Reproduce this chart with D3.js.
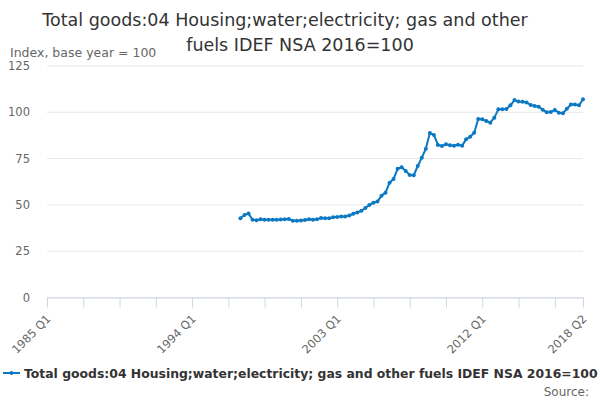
<!DOCTYPE html>
<html>
<head>
<meta charset="utf-8">
<script src="https://cdn.jsdelivr.net/npm/d3@7"></script>
<style>
  body { margin: 0; background: #fff; }
  svg { display: block; font-family: "DejaVu Sans", sans-serif; }
</style>
</head>
<body>
<div id="chart"></div>
<script>
// Axis runs quarterly from 1985 Q1 (index 0) to 2018 Q2 (index 133)
const firstYear = 1985;
const quarterCount = 134;
const tickLabels = ['1985 Q1', '1994 Q1', '2003 Q1', '2012 Q1', '2018 Q2'];
const yTicks = [0, 25, 50, 75, 100, 125];

// Series starts 1997 Q1 (index 48)
const seriesStart = 48;
const values = [
  42.8, 44.6, 45.3, 42.0, 41.7, 42.2, 42.0, 42.0, 42.0, 42.0,
  42.1, 42.3, 42.4, 41.4, 41.4, 41.6, 41.8, 42.2, 42.0, 42.2,
  42.9, 42.8, 42.8, 43.3, 43.5, 43.7, 43.8, 44.3, 45.2, 45.9,
  46.8, 48.3, 50.0, 51.2, 51.8, 55.0, 56.6, 62.0, 64.0, 69.5,
  70.3, 68.3, 66.2, 66.0, 71.0, 75.5, 80.3, 88.8, 87.8, 82.4,
  81.8, 82.7, 82.2, 82.0, 82.5, 82.0, 85.4, 86.8, 89.0, 96.4,
  96.2, 95.3, 94.4, 97.1, 101.6, 101.6, 101.8, 103.8, 106.6, 105.8,
  105.7, 105.3, 104.0, 103.4, 103.0, 101.4, 100.0, 100.1, 101.3, 99.8,
  99.5, 101.9, 104.2, 104.2, 103.8, 107.0
];

const title = ['Total goods:04 Housing;water;electricity; gas and other', 'fuels IDEF NSA 2016=100'];
const yTitle = 'Index, base year = 100';
const seriesName = 'Total goods:04 Housing;water;electricity; gas and other fuels IDEF NSA 2016=100';

const quarterName = i => `${firstYear + Math.floor(i / 4)} Q${i % 4 + 1}`;
const points = values.map((v, k) => ({ i: seriesStart + k, v }));

const width = 600, height = 400;
const color = '#0a78c2';

const svg = d3.select('#chart').append('svg')
  .attr('width', width)
  .attr('height', height);

const x = d3.scaleLinear().domain([0, quarterCount - 1]).range([47, 583]);
const y = d3.scaleLinear().domain([0, 125]).range([297.5, 66]);

// Title
svg.append('text')
  .attr('text-anchor', 'middle')
  .attr('font-size', 17.5)
  .attr('fill', '#333')
  .selectAll('tspan')
  .data(title)
  .join('tspan')
  .attr('x', (d, i) => i === 0 ? 285 : 300)
  .attr('y', (d, i) => 26 + i * 25)
  .text(d => d);

// Y axis title
svg.append('text')
  .attr('x', 10)
  .attr('y', 57)
  .attr('font-size', 12.5)
  .attr('fill', '#666')
  .text(yTitle);

// Gridlines + y labels
const grid = svg.append('g');
grid.selectAll('line')
  .data(yTicks)
  .join('line')
  .attr('x1', 47)
  .attr('x2', 583)
  .attr('y1', d => y(d))
  .attr('y2', d => y(d))
  .attr('stroke', '#e6e6e6');
grid.selectAll('text')
  .data(yTicks)
  .join('text')
  .attr('x', 30)
  .attr('y', d => y(d) + 4)
  .attr('text-anchor', 'end')
  .attr('font-size', 11.5)
  .attr('fill', '#666')
  .text(d => d);

// X axis
const tickIdx = d3.range(0, quarterCount, 9).concat([quarterCount - 1]);
const xAxis = d3.axisBottom(x)
  .tickValues(tickIdx)
  .tickSize(10)
  .tickSizeOuter(0)
  .tickFormat(i => tickLabels.includes(quarterName(i)) ? quarterName(i) : '');

const gx = svg.append('g')
  .attr('transform', `translate(0,${y(0)})`)
  .call(xAxis);
gx.select('.domain').attr('stroke', '#ccd6eb');
gx.selectAll('.tick line').attr('stroke', '#ccd6eb');
gx.selectAll('.tick text')
  .attr('font-family', '"DejaVu Sans", sans-serif')
  .attr('font-size', 11.5)
  .attr('fill', '#666')
  .attr('text-anchor', 'end')
  .attr('dy', 0)
  .attr('transform', 'translate(4,22) rotate(-45)')
  .attr('y', 0)
  .attr('x', 0);

// Line
const line = d3.line()
  .x(d => x(d.i))
  .y(d => y(d.v));

svg.append('path')
  .datum(points)
  .attr('fill', 'none')
  .attr('stroke', color)
  .attr('stroke-width', 2)
  .attr('stroke-linejoin', 'round')
  .attr('d', line);

svg.append('g')
  .selectAll('circle')
  .data(points)
  .join('circle')
  .attr('cx', d => x(d.i))
  .attr('cy', d => y(d.v))
  .attr('r', 2)
  .attr('fill', color);

// Legend
const legend = svg.append('g').attr('transform', 'translate(0,373)');
legend.append('line')
  .attr('x1', 3).attr('x2', 20)
  .attr('stroke', color)
  .attr('stroke-width', 2);
legend.append('circle')
  .attr('cx', 11.5)
  .attr('r', 2)
  .attr('fill', color);
legend.append('text')
  .attr('x', 24)
  .attr('y', 4.5)
  .attr('font-size', 12.4)
  .attr('font-weight', 'bold')
  .attr('fill', '#333')
  .text(seriesName);

// Credit
svg.append('text')
  .attr('x', 589)
  .attr('y', 396)
  .attr('text-anchor', 'end')
  .attr('font-size', 12)
  .attr('fill', '#666')
  .text('Source:');
</script>
</body>
</html>
